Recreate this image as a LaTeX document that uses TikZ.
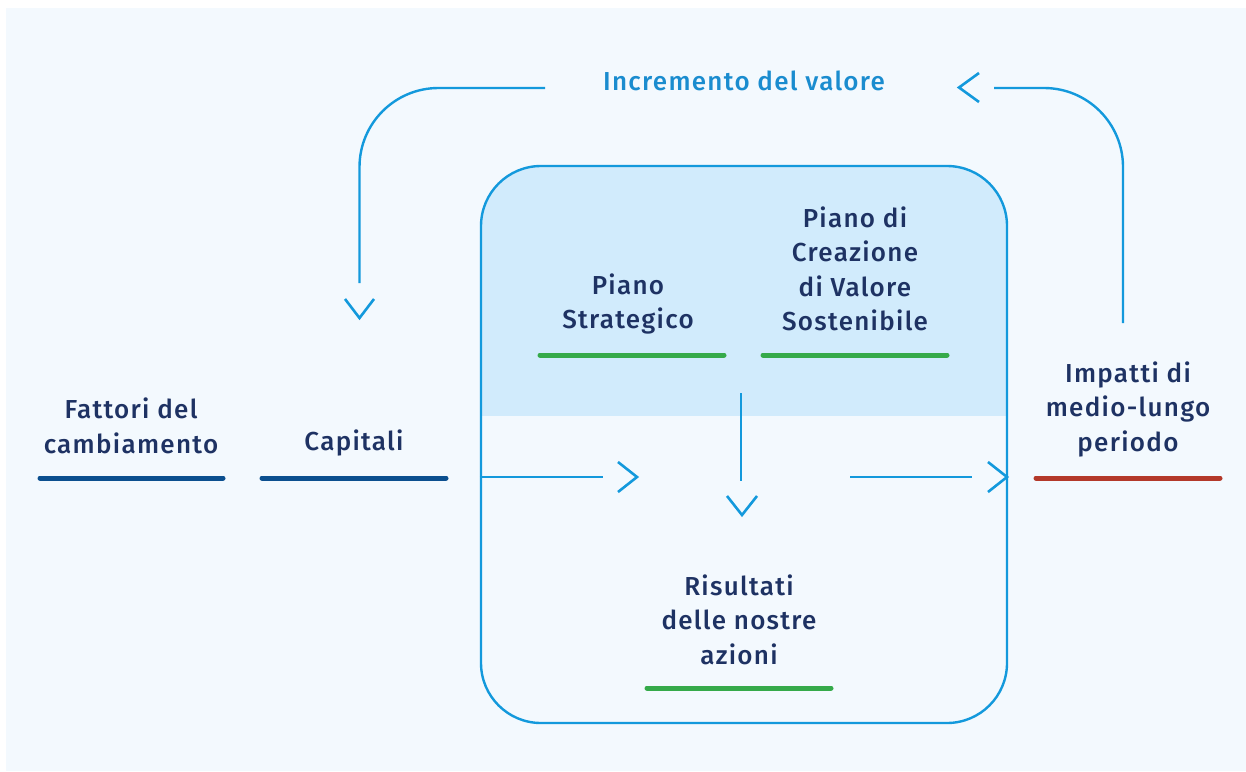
\documentclass[tikz,border=0pt]{standalone}
\usepackage{fontspec}
\setmainfont{Fira Sans}[BoldFont={* Medium}, LetterSpace=5]
\definecolor{bgc}{HTML}{F3F9FE}
\definecolor{boxfill}{HTML}{D1EBFC}
\definecolor{lineblue}{HTML}{1399DC}
\definecolor{navy}{HTML}{1E3263}
\definecolor{titleblue}{HTML}{1A8CCF}
\definecolor{darkblue}{HTML}{0B4F8F}
\definecolor{mygreen}{HTML}{35AA4A}
\definecolor{myred}{HTML}{B3392A}
\tikzset{
  lbl/.style={align=center, text=navy, font=\fontsize{26}{34.5}\selectfont\bfseries, inner sep=0pt},
  conn/.style={draw=lineblue, line width=2.4pt},
  chev/.style={draw=lineblue, line width=2.6pt, miter limit=10},
  uline/.style={line width=5pt, line cap=round}
}
\begin{document}
\begin{tikzpicture}[x=1pt,y=-1pt]
\useasboundingbox (0,0) rectangle (1246,771);
\fill[bgc] (6,8) rectangle (1246,771);
% box
\begin{scope}
\clip[rounded corners=60pt] (481,166) rectangle (1007,723);
\fill[boxfill] (481,166) rectangle (1007,415.5);
\end{scope}
\node[draw=lineblue, line width=2.4pt, rounded corners=60pt, minimum width=526pt, minimum height=557pt, inner sep=0pt] (box) at (744,444.5) {};
% title
\node[font=\fontsize{26}{30}\selectfont\bfseries, text=titleblue, inner sep=0pt] (title) at (744,81) {Incremento del valore};
% labels
\node[lbl] (fattori) at (131,426) {Fattori del\\cambiamento};
\node[lbl] (capitali) at (354,443) {Capitali};
\node[lbl] (strat) at (628,304) {Piano\\Strategico};
\node[lbl] (creaz) at (855,269) {Piano di\\Creazione\\di Valore\\Sostenibile};
\node[lbl] (impatti) at (1128,409) {Impatti di\\medio-lungo\\periodo};
\node[lbl] (risult) at (739,619.5) {Risultati\\delle nostre\\azioni};
% underlines
\draw[uline, darkblue] (40,478) -- (223,478);
\draw[uline, darkblue] (262,478) -- (446,478);
\draw[uline, mygreen] (540,355) -- (724,355);
\draw[uline, mygreen] (763,355) -- (947,355);
\draw[uline, myred] (1036,478) -- (1220,478);
\draw[uline, mygreen] (647,688) -- (831,688);
% coordinates
\coordinate (tl) at (545,88);
\coordinate (tlend) at (359.5,283);
\coordinate (tr) at (994,88);
\coordinate (trstart) at (1123,323);
\coordinate (hl1) at (box.west |- 0,477);
\coordinate (hl1e) at (603,477);
\coordinate (hr1) at (850,477);
\coordinate (hr1e) at (972,477);
\coordinate (vd) at (741,393);
\coordinate (vde) at (741,481);
% connectors
\draw[conn, rounded corners=79pt] (tl) -| (tlend);
\draw[conn, rounded corners=79pt] (trstart) |- (tr);
\draw[conn] (hl1) -- (hl1e);
\draw[conn] (hr1) -- (hr1e);
\draw[conn] (vd) -- (vde);
% chevrons
\draw[chev] (345,299) -- (359.5,318) -- (374,299);
\draw[chev] (979,73) -- (959,87.5) -- (979,102);
\draw[chev] (618,462) -- (637,477) -- (618,492);
\draw[chev] (988,462) -- (1007,477) -- (988,492);
\draw[chev] (727,496) -- (742,515) -- (757,496);
\end{tikzpicture}
\end{document}
